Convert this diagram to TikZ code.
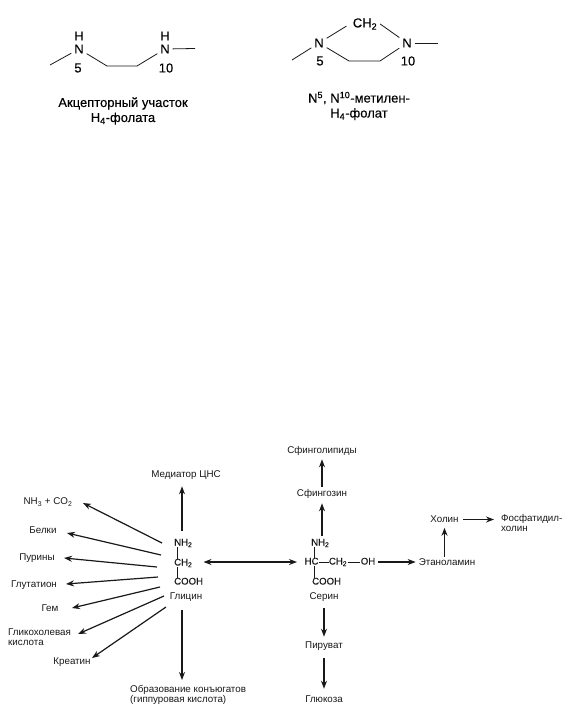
\documentclass[tikz,border=0pt]{standalone}
\usepackage{fontspec}
\setmainfont{Liberation Sans}
\newfontfamily\boldishfont{Liberation Sans}[FakeBold=0.25]
\newfontfamily\chemfont{Liberation Sans}[FakeBold=0.2]
\usetikzlibrary{arrows.meta}
\definecolor{ink}{gray}{0.1}
\tikzset{
  x=1pt,y=-1pt,
  txt/.style={inner sep=0pt,text=ink,font=\fontsize{9.8}{10.5}\selectfont,text height=6.6pt,text depth=1.6pt},
  multi/.style={inner sep=0pt,text=ink,font=\fontsize{9.8}{10.5}\selectfont,align=left},
  chem/.style={inner sep=0pt,text=ink,font=\chemfont\fontsize{9.6}{10.5}\selectfont,text height=6.6pt,text depth=1.6pt},
  big/.style={inner sep=0pt,outer sep=3pt,text=black,font=\boldishfont\fontsize{13}{15}\selectfont,align=center},
  arr/.style={draw=ink,line width=1.2pt,-{Stealth[length=8pt,width=6pt]}},
  biarr/.style={draw=ink,line width=1.2pt,{Stealth[length=8pt,width=6pt]}-{Stealth[length=8pt,width=6pt]}},
  bond/.style={draw=ink,line width=0.8pt},
  bbond/.style={draw=ink,line width=0.8pt},
}
\begin{document}
\begin{tikzpicture}
\useasboundingbox[fill=white] (0,0) rectangle (587,709);
% --- top left structure
\node[big] (h1) at (79,36) {H};
\node[big] (n1) at (79,49) {N};
\node[big] (five1) at (78,68) {5};
\node[big] (h2) at (165,36) {H};
\node[big] (n2) at (165,49) {N};
\node[big] (ten1) at (166,68) {10};
\coordinate (a1) at (50,65);
\coordinate (b1) at (107,66);
\coordinate (c1) at (137,66);
\coordinate (d1) at (195,48.5);
\draw[bbond] (a1) -- (n1);
\draw[bbond] (n1) -- (b1) -- (c1) -- (n2);
\draw[bbond] (n2) -- (d1);
\node[big] (cap1) at (123,111) {Акцепторный участок\\H\textsubscript{4}-фолата};
% --- top right structure
\node[big] (n3) at (319,43) {N};
\node[big] (n4) at (407,43) {N};
\node[big] (ch2) at (365,24) {CH\textsubscript{2}};
\node[big] (five2) at (320,61) {5};
\node[big] (ten2) at (408,61) {10};
\coordinate (a2) at (292,60);
\coordinate (b2) at (349,61);
\coordinate (c2) at (380,61);
\coordinate (d2) at (438,43);
\draw[bbond] (a2) -- (n3);
\draw[bbond,shorten >=4pt] (n3) -- (ch2.west);
\draw[bbond] (ch2.east) -- (n4);
\draw[bbond] (n3) -- (b2) -- (c2) -- (n4);
\draw[bbond] (n4) -- (d2);
\node[big] (cap2) at (359,106) {N\textsuperscript{5}, N\textsuperscript{10}-метилен-\\H\textsubscript{4}-фолат};
% --- glycine
\node[chem,anchor=west] (gnh) at (174,543) {NH\textsubscript{2}};
\node[chem,anchor=west] (gch) at (174,563) {CH\textsubscript{2}};
\node[chem,anchor=west] (gco) at (174,582) {COOH};
\node[txt] (gly) at (186,597) {Глицин};
\draw[bond] ([xshift=3pt]gnh.south west) -- ([xshift=3pt]gch.north west);
\draw[bond] ([xshift=3pt]gch.south west) -- ([xshift=3pt]gco.north west);
\node[txt] (med) at (186,475) {Медиатор ЦНС};
\node[txt] (nh3) at (48,502) {NH\textsubscript{3} + CO\textsubscript{2}};
\node[txt] (bel) at (43,531) {Белки};
\node[txt] (pur) at (37,558) {Пурины};
\node[txt] (glu) at (34,585) {Глутатион};
\node[txt] (gem) at (50,609) {Гем};
\node[multi,anchor=west] (gch2) at (8,637) {Гликохолевая\\кислота};
\node[txt] (kre) at (72,662) {Креатин};
\node[multi,anchor=north west] (obr) at (130,685) {Образование конъюгатов\\(гиппуровая кислота)};
\coordinate (gx) at (182,543);
\coordinate (g1) at (162,543);
\coordinate (g2) at (161,555);
\coordinate (g3) at (157,567);
\coordinate (g4) at (158,577);
\coordinate (g5) at (160,587);
\coordinate (g6) at (164,596);
\coordinate (g7) at (166,607);
\coordinate (t1) at (83,503);
\coordinate (t2) at (67,533);
\coordinate (t3) at (64,558);
\coordinate (t4) at (66,584);
\coordinate (t5) at (72,608);
\coordinate (t6) at (78,634);
\coordinate (t7) at (92,658);
\draw[arr] (g1) -- (t1);
\draw[arr] (g2) -- (t2);
\draw[arr] (g3) -- (t3);
\draw[arr] (g4) -- (t4);
\draw[arr] (g5) -- (t5);
\draw[arr] (g6) -- (t6);
\draw[arr] (g7) -- (t7);
\draw[arr,shorten <=8pt,shorten >=7pt] (gx |- gnh.north) -- (gx |- med.south);
\draw[arr,shorten <=9pt,shorten >=5pt] (gx |- gly.south) -- (gx |- obr.north);
% --- serine
\node[chem,anchor=west] (snh) at (311,543) {NH\textsubscript{2}};
\node[chem,anchor=west] (shc) at (304.5,562) {HC};
\node[chem] (sch) at (338,562) {CH\textsubscript{2}};
\node[chem] (soh) at (368,562) {OH};
\node[chem,anchor=west] (sco) at (312,582) {COOH};
\node[txt] (ser) at (324,597) {Серин};
\coordinate (sx) at (314,562);
\draw[bond] (sx |- snh.south) -- (sx |- shc.north);
\draw[bond] (sx |- shc.south) -- (sx |- sco.north);
\draw[bond] (shc.east) -- (sch.west);
\draw[bond] ([xshift=1pt]sch.east) -- ([xshift=-1pt]soh.west);
\node[txt] (sfl) at (322,451) {Сфинголипиды};
\node[txt] (sfz) at (322,494) {Сфингозин};
\node[txt] (pir) at (324,646) {Пируват};
\node[txt] (gls) at (324,700) {Глюкоза};
\node[txt] (eta) at (447,563) {Этаноламин};
\node[txt] (hol) at (444.5,519.5) {Холин};
\node[multi,anchor=west] (fos) at (501,523) {Фосфатидил-\\холин};
\draw[biarr,shorten <=11pt,shorten >=7.5pt] (gch.east |- shc.west) -- (shc.west);
\draw[arr,shorten <=3pt,shorten >=4pt] (sfz.north) -- (sfl.south);
\draw[arr,shorten <=3pt,shorten >=5pt] (sfz.south |- snh.north) -- (sfz.south);
\draw[arr,shorten <=7pt,shorten >=5pt] (ser.south) -- (pir.north);
\draw[arr,shorten <=8pt,shorten >=7pt] (pir.south) -- (gls.north);
\draw[arr,shorten <=3pt,shorten >=3pt] (soh.east) -- (eta.west |- soh.east);
\draw[arr,shorten <=2pt,shorten >=4pt] (hol.south |- eta.north) -- (hol.south);
\draw[arr,shorten <=4pt,shorten >=7pt] (hol.east) -- (hol.east -| fos.west);
\end{tikzpicture}
\end{document}
